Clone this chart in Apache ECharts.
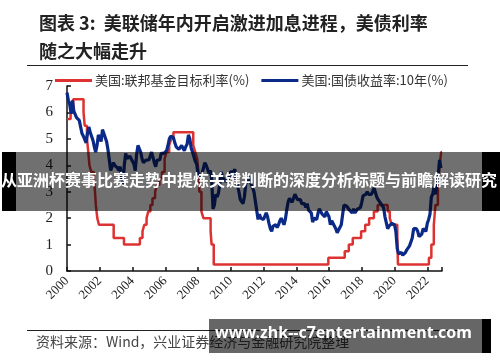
<!DOCTYPE html>
<html><head><meta charset="utf-8">
<script src="https://cdn.jsdelivr.net/npm/echarts@6/dist/echarts.min.js"></script>
<style>html,body{margin:0;padding:0;background:#fff}#c{width:500px;height:362px}</style>
</head><body><div id="c"></div>
<script>
const titleText = '图表 3:  美联储年内开启激进加息进程，美债利率\n随之大幅走升';
const sourceText = '资料来源：Wind，兴业证券经济与金融研究院整理';
const bannerText = '从亚洲杯赛事比赛走势中提炼关键判断的深度分析标题与前瞻解读研究';
const watermarkText = 'www.zhk--c7entertainment.com';
const seriesNames = ['美国:联邦基金目标利率(%)', '美国:国债收益率:10年(%)'];
const xTicks = [2000, 2002, 2004, 2006, 2008, 2010, 2012, 2014, 2016, 2018, 2020, 2022];
const yTicks = [0, 1, 2, 3, 4, 5, 6, 7];

// Fed funds target (upper bound): [date as decimal year, new level]
const fedFunds = [
  [2000.0, 5.75], [2000.22, 6.0], [2000.38, 6.5], [2001.01, 6.0], [2001.08, 5.5], [2001.22, 5.0],
  [2001.3, 4.5], [2001.37, 4.0], [2001.48, 3.75], [2001.64, 3.5], [2001.71, 3.0], [2001.76, 2.5],
  [2001.85, 2.0], [2001.95, 1.75], [2002.85, 1.25], [2003.48, 1.0], [2004.45, 1.25], [2004.61, 1.5],
  [2004.72, 1.75], [2004.86, 2.0], [2004.96, 2.25], [2005.09, 2.5], [2005.22, 2.75], [2005.38, 3.0],
  [2005.5, 3.25], [2005.64, 3.5], [2005.8, 3.75], [2005.96, 4.25], [2006.08, 4.5], [2006.24, 4.75],
  [2006.36, 5.0], [2006.5, 5.25], [2007.71, 4.75], [2007.83, 4.5], [2007.95, 4.25], [2008.06, 3.5],
  [2008.08, 3.0], [2008.21, 2.25], [2008.33, 2.0], [2008.77, 1.5], [2008.83, 1.0], [2008.96, 0.25],
  [2015.96, 0.5], [2016.96, 0.75], [2017.21, 1.0], [2017.45, 1.25], [2017.96, 1.5], [2018.21, 1.75],
  [2018.45, 2.0], [2018.74, 2.25], [2018.97, 2.5], [2019.58, 2.25], [2019.71, 2.0], [2019.83, 1.75],
  [2020.17, 1.25], [2020.21, 0.25], [2022.1, 0.5], [2022.25, 1.0], [2022.4, 1.75], [2022.5, 2.5],
  [2022.65, 3.25], [2022.75, 4.0], [2022.85, 4.5], [2022.9, 4.5]
];

// 10Y Treasury yield, monthly from Jan 2000
const y10Start = 2000;
const y10 = [
  6.75, 6.45, 6.30, 5.95, 6.45, 6.05, 6.10, 5.80, 5.85, 5.70, 5.75, 5.20,
  5.10, 5.15, 4.85, 5.20, 5.45, 5.25, 5.25, 4.95, 4.70, 4.50, 4.75, 5.15,
  5.05, 4.90, 5.35, 5.20, 5.15, 4.90, 4.60, 4.20, 3.80, 3.95, 4.10, 4.00,
  4.05, 3.90, 3.80, 3.95, 3.55, 3.30, 4.00, 4.45, 4.25, 4.30, 4.35, 4.25,
  4.15, 4.05, 3.80, 4.40, 4.75, 4.70, 4.50, 4.25, 4.10, 4.05, 4.20, 4.25,
  4.20, 4.20, 4.50, 4.30, 4.10, 3.95, 4.20, 4.25, 4.20, 4.45, 4.50, 4.45,
  4.40, 4.55, 4.75, 5.00, 5.10, 5.15, 5.05, 4.85, 4.70, 4.75, 4.60, 4.55,
  4.75, 4.70, 4.55, 4.70, 4.80, 5.15, 5.00, 4.65, 4.50, 4.55, 4.15, 4.05,
  3.70, 3.75, 3.50, 3.70, 3.90, 4.10, 4.00, 3.85, 3.70, 3.80, 3.50, 2.35,
  2.50, 2.90, 2.80, 2.95, 3.30, 3.75, 3.55, 3.60, 3.40, 3.40, 3.40, 3.60,
  3.75, 3.70, 3.75, 3.85, 3.40, 3.20, 3.00, 2.70, 2.65, 2.55, 2.80, 3.30,
  3.40, 3.60, 3.40, 3.45, 3.15, 3.00, 3.00, 2.30, 1.95, 2.15, 2.00, 1.95,
  1.95, 2.00, 2.20, 2.05, 1.80, 1.60, 1.50, 1.70, 1.70, 1.75, 1.65, 1.75,
  1.90, 2.00, 1.95, 1.75, 1.95, 2.30, 2.60, 2.75, 2.80, 2.60, 2.75, 2.90,
  2.85, 2.70, 2.75, 2.70, 2.55, 2.60, 2.55, 2.40, 2.55, 2.30, 2.35, 2.20,
  1.85, 2.00, 2.05, 1.95, 2.20, 2.35, 2.30, 2.15, 2.15, 2.05, 2.25, 2.25,
  2.05, 1.75, 1.90, 1.80, 1.80, 1.60, 1.45, 1.55, 1.60, 1.75, 2.15, 2.50,
  2.45, 2.45, 2.50, 2.30, 2.30, 2.20, 2.35, 2.20, 2.20, 2.35, 2.35, 2.40,
  2.60, 2.85, 2.85, 2.90, 3.00, 2.90, 2.90, 2.90, 3.00, 3.15, 3.10, 2.80,
  2.70, 2.65, 2.55, 2.55, 2.40, 2.05, 2.05, 1.60, 1.70, 1.75, 1.80, 1.85,
  1.75, 1.50, 0.85, 0.65, 0.65, 0.70, 0.60, 0.65, 0.70, 0.80, 0.85, 0.95,
  1.10, 1.25, 1.60, 1.65, 1.60, 1.50, 1.30, 1.30, 1.40, 1.60, 1.55, 1.50,
  1.80, 1.95, 2.15, 2.80, 2.90, 3.20, 2.90, 2.95, 3.60, 4.20, 3.90
];

// stray black stroke right of the plot in the reference
const strayLine = [[2023.02, 1.1], [2023.5, 3.05]];

const y10Data = y10.map((v, i) => [y10Start + i / 12, v]);

const serif = '"Liberation Serif","DejaVu Serif","Noto Sans CJK SC",serif';
const cjk = '"Noto Sans CJK SC",sans-serif';

const chart = echarts.init(document.getElementById('c'), null, {renderer: 'canvas'});
chart.setOption({
  animation: false,
  backgroundColor: '#fff',
  title: {
    text: titleText, left: 34, top: 4,
    textStyle: {fontFamily: cjk, fontSize: 18, fontWeight: 'bold', color: '#222', lineHeight: 28}
  },
  legend: {
    data: seriesNames, left: 50, top: 69, itemWidth: 37, itemHeight: 3, itemGap: 12,
    icon: 'rect',
    textStyle: {fontFamily: cjk, fontSize: 13, color: '#333', padding: [0, 0, 0, -2]}
  },
  grid: {left: 67, right: 58, top: 86, bottom: 91, containLabel: false},
  xAxis: {
    type: 'value', min: 2000, max: 2022.9, interval: 2,
    splitLine: {show: false},
    axisLine: {lineStyle: {color: '#111', width: 1.5}},
    axisTick: {inside: true, length: 4, lineStyle: {color: '#111', width: 1.5}},
    axisLabel: {
      rotate: 45, margin: 8, fontFamily: serif, fontSize: 13, color: '#222',
      formatter: v => (xTicks.indexOf(v) >= 0 ? String(v) : '')
    }
  },
  yAxis: {
    type: 'value', min: 0, max: 7, interval: 1,
    splitLine: {show: false},
    axisLine: {show: true, lineStyle: {color: '#111', width: 1.5}},
    axisTick: {show: true, inside: true, length: 4, lineStyle: {color: '#111', width: 1.5}},
    axisLabel: {margin: 14, fontFamily: serif, fontSize: 15, color: '#222',
      formatter: v => (yTicks.indexOf(v) >= 0 ? String(v) : '')}
  },
  series: [
    {
      name: seriesNames[0], type: 'line', step: 'end', data: fedFunds, showSymbol: false,
      lineStyle: {color: '#de3232', width: 2.5}, itemStyle: {color: '#de3232'}, z: 2
    },
    {
      name: seriesNames[1], type: 'line', data: y10Data, showSymbol: false,
      lineStyle: {color: '#0b2a88', width: 3.2}, itemStyle: {color: '#0b2a88'}, z: 3
    },
    {
      name: 'stray', type: 'line', data: strayLine, showSymbol: false, clip: false,
      lineStyle: {color: '#111', width: 2}, z: 4, silent: true
    }
  ],
  graphic: [
    {type: 'line', shape: {x1: 27, y1: 65.5, x2: 468, y2: 65.5}, style: {stroke: '#222', lineWidth: 1}},
    {type: 'line', shape: {x1: 27, y1: 330.5, x2: 468, y2: 330.5}, style: {stroke: '#222', lineWidth: 1}},
    {type: 'text', left: 36, top: 335, style: {text: sourceText, font: '14px ' + cjk, fill: '#444'}},
    // banner overlay
    {type: 'rect', shape: {x: 2, y: 152, width: 14, height: 59}, style: {fill: '#000'}, z: 100},
    {type: 'rect', shape: {x: 16, y: 152, width: 466, height: 59}, style: {fill: 'rgba(0,0,0,0.56)'}, z: 100},
    {type: 'rect', shape: {x: 482, y: 152, width: 18, height: 59}, style: {fill: '#000'}, z: 100},
    {type: 'text', left: 1, top: 172, z: 101,
      style: {text: bannerText, font: 'bold 16px ' + cjk, fill: '#fff'}},
    // watermark overlay
    {type: 'rect', shape: {x: 209, y: 319, width: 273, height: 34}, style: {fill: 'rgba(0,0,0,0.6)'}, z: 100},
    {type: 'rect', shape: {x: 482, y: 319, width: 9, height: 34}, style: {fill: '#000'}, z: 100},
    {type: 'text', left: 215, top: 325, z: 101,
      style: {text: watermarkText, font: 'bold 16px "Noto Sans","Open Sans",sans-serif', fill: '#fff'}}
  ]
});
</script></body></html>
